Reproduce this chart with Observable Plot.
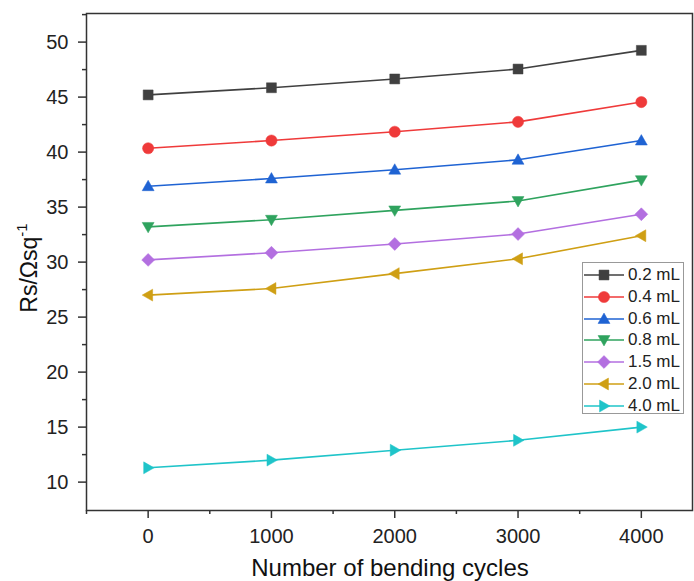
<!DOCTYPE html>
<html>
<head>
<meta charset="utf-8">
<script src="https://cdn.jsdelivr.net/npm/d3@7"></script>
<script src="https://cdn.jsdelivr.net/npm/@observablehq/plot@0.6"></script>
<style>
  body { margin: 0; background: #fff; font-family: "Liberation Sans", Arial, sans-serif; }
  #wrap { position: relative; width: 694px; height: 581px; }
  #legend { position: absolute; left: 582px; top: 262px; width: 102px; height: 152px;
            border: 1px solid #999; background: #fff; box-sizing: border-box; }
  .lrow { position: absolute; left: 0; height: 22px; display: flex; align-items: center; }
  .lrow span { font-size: 17px; color: #222; margin-left: 3px; white-space: nowrap; }
</style>
</head>
<body>
<div id="wrap"><div id="legend"></div></div>
<script>
// ---- data ----
const cycles = [0, 1000, 2000, 3000, 4000];
const seriesNames = ["0.2 mL", "0.4 mL", "0.6 mL", "0.8 mL", "1.5 mL", "2.0 mL", "4.0 mL"];
const rs_02 = [45.2, 45.85, 46.65, 47.55, 49.25];
const rs_04 = [40.35, 41.05, 41.85, 42.75, 44.55];
const rs_06 = [36.9, 37.6, 38.4, 39.3, 41.05];
const rs_08 = [33.2, 33.85, 34.7, 35.55, 37.45];
const rs_15 = [30.2, 30.85, 31.65, 32.55, 34.35];
const rs_20 = [27.0, 27.6, 28.95, 30.3, 32.4];
const rs_40 = [11.3, 12.0, 12.9, 13.8, 15.0];
const seriesValues = [rs_02, rs_04, rs_06, rs_08, rs_15, rs_20, rs_40];
const seriesColors = ["#404040", "#ef3a3a", "#1f63d3", "#2fa35e", "#b36fe0", "#cf9f14", "#1fc4c9"];
const yTicks = [10, 15, 20, 25, 30, 35, 40, 45, 50];
const yMinor = [12.5, 17.5, 22.5, 27.5, 32.5, 37.5, 42.5, 47.5, 52.5];
const xMinor = [-500, 500, 1500, 2500, 3500];

// ---- custom marker shapes ----
const sq = {draw(c, size) { const h = Math.sqrt(size) / 2; c.rect(-h, -h, 2 * h, 2 * h); }};
const circ = {draw(c, size) { const r = Math.sqrt(size / Math.PI); c.moveTo(r, 0); c.arc(0, 0, r, 0, 2 * Math.PI); }};
const triUp = {draw(c, size) { const s = Math.sqrt(size) / 2; c.moveTo(0, -1.2 * s); c.lineTo(1.2 * s, 0.9 * s); c.lineTo(-1.2 * s, 0.9 * s); c.closePath(); }};
const triDown = {draw(c, size) { const s = Math.sqrt(size) / 2; c.moveTo(0, 1.2 * s); c.lineTo(1.2 * s, -0.9 * s); c.lineTo(-1.2 * s, -0.9 * s); c.closePath(); }};
const diamond = {draw(c, size) { const s = Math.sqrt(size) / 2 * 1.3; c.moveTo(0, -s); c.lineTo(s, 0); c.lineTo(0, s); c.lineTo(-s, 0); c.closePath(); }};
const triLeft = {draw(c, size) { const s = Math.sqrt(size) / 2; c.moveTo(-1.2 * s, 0); c.lineTo(0.9 * s, -1.2 * s); c.lineTo(0.9 * s, 1.2 * s); c.closePath(); }};
const triRight = {draw(c, size) { const s = Math.sqrt(size) / 2; c.moveTo(1.2 * s, 0); c.lineTo(-0.9 * s, -1.2 * s); c.lineTo(-0.9 * s, 1.2 * s); c.closePath(); }};
const seriesSymbols = [sq, circ, triUp, triDown, diamond, triLeft, triRight];

const rows = seriesNames.flatMap((s, i) => cycles.map((c, j) => ({series: s, cycles: c, rs: seriesValues[i][j]})));

const R = 5.6;
const plot = Plot.plot({
  width: 694,
  height: 581,
  marginLeft: 86,
  marginRight: 2,
  marginTop: 13,
  marginBottom: 71,
  style: {fontFamily: "'Liberation Sans', Arial, sans-serif", background: "transparent"},
  x: {domain: [-500, 4415]},
  y: {domain: [7.42, 52.6]},
  color: {domain: seriesNames, range: seriesColors},
  symbol: {domain: seriesNames, range: seriesSymbols},
  marks: [
    Plot.axisX(cycles, {tickSize: 8, tickPadding: 10, tickFormat: d3.format("d"), fontSize: 20, fill: "#222", stroke: "#333", strokeWidth: 1.5, label: null}),
    Plot.axisX(xMinor, {tickSize: 4, tickFormat: () => "", stroke: "#333", strokeWidth: 1.5, label: null}),
    Plot.axisY(yTicks, {tickSize: 8, tickPadding: 10, fontSize: 20, fill: "#222", stroke: "#333", strokeWidth: 1.5, label: null}),
    Plot.axisY(yMinor.filter(v => v < 52.6), {tickSize: 4, tickFormat: () => "", stroke: "#333", strokeWidth: 1.5, label: null}),
    Plot.frame({stroke: "#333", strokeWidth: 1.5}),
    Plot.line(rows, {x: "cycles", y: "rs", z: "series", stroke: "series", strokeWidth: 1.6}),
    Plot.dot(rows, {x: "cycles", y: "rs", symbol: "series", fill: "series", stroke: "series", strokeWidth: 0.5, r: R})
  ]
});

const svg = d3.select(plot);
svg.append("text")
  .attr("x", 390).attr("y", 576)
  .attr("text-anchor", "middle")
  .attr("font-size", 24).attr("fill", "#111")
  .text("Number of bending cycles");
const yl = svg.append("text")
  .attr("transform", "translate(37,268) rotate(-90)")
  .attr("text-anchor", "middle")
  .attr("font-size", 23).attr("fill", "#111");
yl.append("tspan").text("Rs/Ωsq");
yl.append("tspan").attr("font-size", 15).attr("dy", -10).text("-1");

document.getElementById("wrap").prepend(plot);

// ---- legend ----
const legend = d3.select("#legend");
seriesNames.forEach((name, i) => {
  const row = legend.append("div").attr("class", "lrow").style("top", (1 + i * 21.8) + "px");
  const s = row.append("svg").attr("width", 42).attr("height", 22);
  s.append("line").attr("x1", 1).attr("x2", 41).attr("y1", 11).attr("y2", 11)
    .attr("stroke", seriesColors[i]).attr("stroke-width", 1.6);
  s.append("path").attr("transform", "translate(21,11)")
    .attr("d", d3.symbol(seriesSymbols[i], Math.PI * R * R)())
    .attr("fill", seriesColors[i]).attr("stroke", seriesColors[i]).attr("stroke-width", 0.5);
  row.append("span").text(name);
});
</script>
</body>
</html>
